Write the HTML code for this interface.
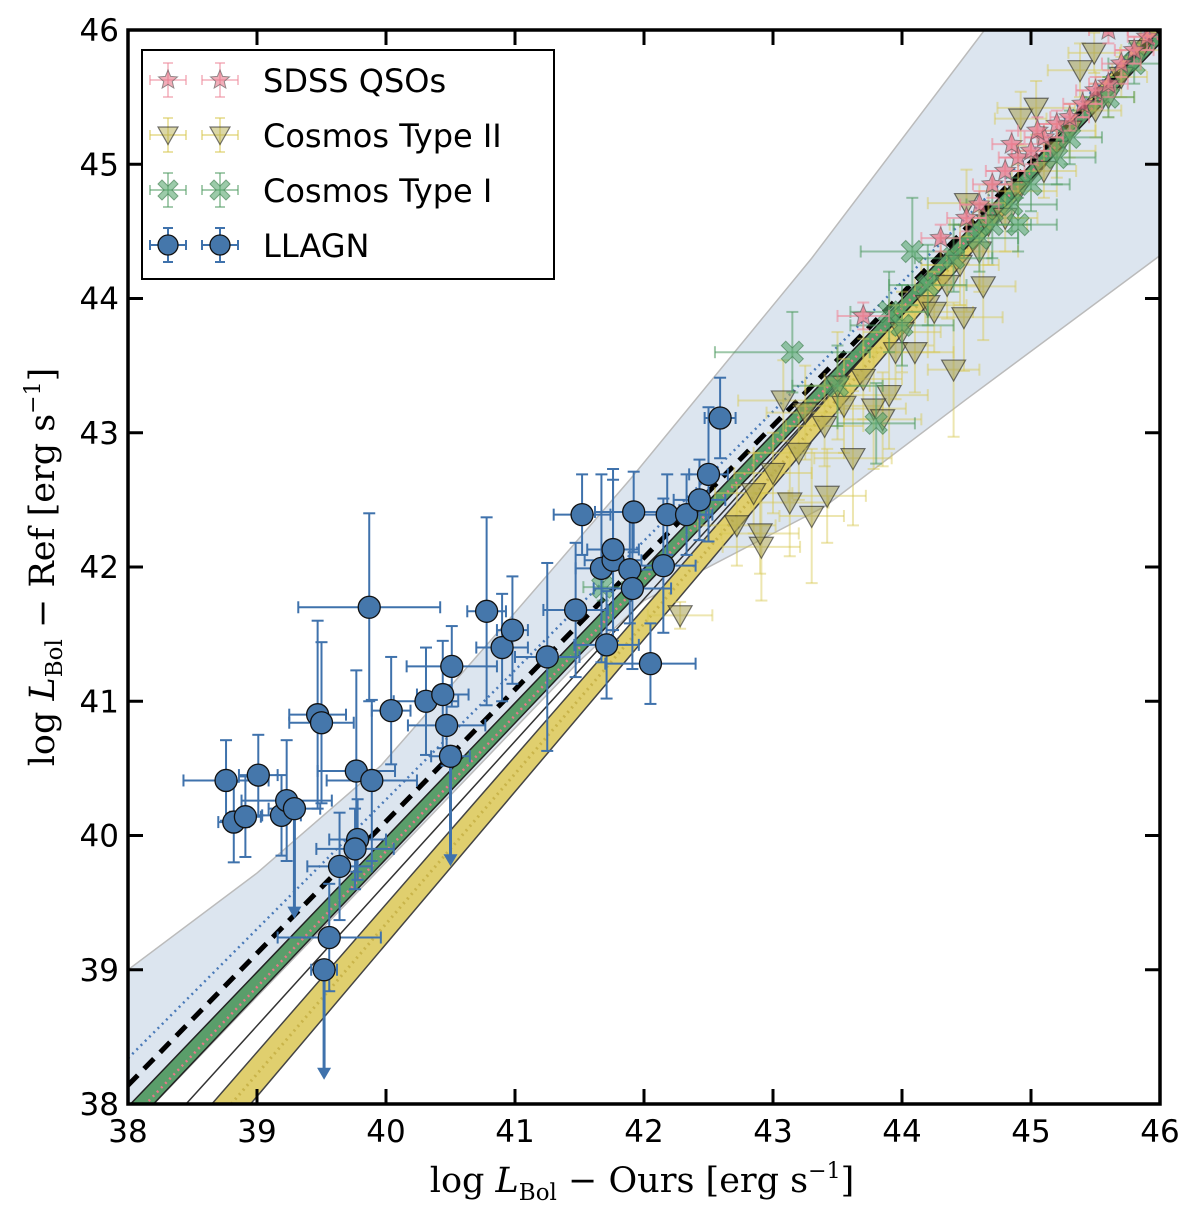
<!DOCTYPE html>
<html><head><meta charset="utf-8"><style>
html,body{margin:0;padding:0;background:#fff;overflow:hidden;width:1200px;height:1216px}
svg{display:block}
.tk{font-family:"DejaVu Sans","Liberation Sans",sans-serif;font-size:31px;fill:#000}
.lg{font-family:"DejaVu Sans","Liberation Sans",sans-serif;font-size:32px;fill:#000}
.ax{font-family:"DejaVu Serif","Liberation Serif",serif;font-size:35px;fill:#000}
</style></head><body>
<svg id="chart" width="1200" height="1216" viewBox="0 0 1200 1216" xmlns="http://www.w3.org/2000/svg">
<defs><clipPath id="clip"><rect x="128" y="30" width="1032" height="1074"/></clipPath></defs>
<g id="plot" clip-path="url(#clip)"></g>
<g id="axes"></g>
<g id="legend"></g>
<text class="ax" x="642" y="1192" text-anchor="middle">log  <tspan font-style="italic">L</tspan><tspan font-size="23" dy="8">Bol</tspan><tspan dy="-8"> − Ours [erg s</tspan><tspan font-size="22" dy="-14">−1</tspan><tspan dy="14">]</tspan></text>
<text class="ax" transform="translate(54,567) rotate(-90)" text-anchor="middle">log  <tspan font-style="italic">L</tspan><tspan font-size="23" dy="8">Bol</tspan><tspan dy="-8"> − Ref [erg s</tspan><tspan font-size="22" dy="-14">−1</tspan><tspan dy="14">]</tspan></text>
</svg>
<script>
const xTicks=[38,39,40,41,42,43,44,45,46];
const yTicks=[38,39,40,41,42,43,44,45,46];
// LLAGN: x, y, xerr, yerr, upper-limit flag
const llX=[38.76,38.82,38.91,39.01,39.19,39.23,39.29,39.47,39.50,39.77,39.78,39.76,39.89,39.87,39.64,39.56,39.52,40.04,40.31,40.44,40.47,40.50,40.51,40.78,40.90,40.98,41.25,41.52,41.47,41.67,41.71,41.76,41.76,41.89,41.91,41.92,42.15,42.18,42.05,42.33,42.43,42.50,42.59];
const llY=[40.41,40.10,40.14,40.45,40.15,40.26,40.20,40.90,40.84,40.48,39.97,39.90,40.41,41.70,39.77,39.24,39.00,40.93,41.00,41.05,40.82,40.59,41.26,41.67,41.40,41.53,41.33,42.39,41.68,41.99,41.42,42.05,42.13,41.98,41.84,42.41,42.01,42.39,41.28,42.39,42.50,42.69,43.11];
const llXe=[0.33,0.12,0.12,0.15,0.15,0.35,0.20,0.22,0.25,0.30,0.22,0.30,0.35,0.55,0.25,0.40,0.10,0.15,0.25,0.20,0.30,0.15,0.35,0.15,0.20,0.12,0.25,0.22,0.25,0.20,0.25,0.22,0.20,0.25,0.30,0.30,0.25,0.30,0.35,0.20,0.20,0.15,0.12];
const llYe=[0.30,0.30,0.30,0.30,0.30,0.45,0.00,0.70,0.60,0.75,0.30,0.30,0.60,0.70,0.40,0.40,0.00,0.40,0.40,0.40,0.30,0.00,0.30,0.70,0.40,0.40,0.70,0.30,0.50,0.70,0.40,0.60,0.60,0.40,0.60,0.30,0.50,0.30,0.30,0.30,0.30,0.50,0.30];
const llUL=[0,0,0,0,0,0,1,0,0,0,0,0,0,0,0,0,1,0,0,0,0,1,0,0,0,0,0,0,0,0,0,0,0,0,0,0,0,0,0,0,0,0,0];
// Cosmos Type II
const c2X=[42.91,43.42,43.30,43.13,42.72,43.62,44.40,44.48,44.63,43.90,43.78,43.08,43.25,43.50,44.92,45.04,45.49,45.38,44.67,44.50,44.0,43.95,43.7,43.55,43.4,43.2,43.0,42.85,44.2,44.35,44.45,44.6,44.8,44.9,45.1,45.3,45.5,45.7,45.85,44.1,43.85,42.28,42.9,45.6,45.2,44.25];
const c2Y=[42.15,42.53,42.38,42.48,42.31,42.81,43.47,43.86,44.09,43.28,43.18,43.24,43.15,43.35,45.34,45.42,45.83,45.70,44.55,44.71,43.75,43.6,43.4,43.2,43.05,42.85,42.7,42.55,43.95,44.1,44.25,44.35,44.6,44.8,44.95,45.25,45.4,45.65,45.85,43.6,43.1,41.64,42.25,45.5,45.1,43.9];
const c2Xe=[0.3,0.3,0.25,0.3,0.3,0.3,0.2,0.3,0.25,0.3,0.25,0.35,0.3,0.25,0.2,0.3,0.2,0.25,0.3,0.3,0.3,0.25,0.3,0.3,0.3,0.35,0.3,0.3,0.3,0.25,0.3,0.3,0.25,0.3,0.25,0.2,0.2,0.2,0.15,0.3,0.3,0.25,0.3,0.2,0.3,0.3];
const c2Ye=[0.4,0.35,0.5,0.4,0.3,0.5,0.5,0.4,0.4,0.4,0.45,0.3,0.35,0.4,0.2,0.2,0.15,0.2,0.3,0.25,0.3,0.35,0.3,0.35,0.3,0.35,0.3,0.3,0.3,0.25,0.3,0.3,0.25,0.2,0.2,0.2,0.2,0.15,0.15,0.3,0.35,0.1,0.3,0.15,0.2,0.3];
// Cosmos Type I
const c1X=[43.15,43.80,44.08,44.85,44.90,43.9,44.2,44.4,44.6,45.0,45.3,45.6,45.8,44.0,43.5,41.68,44.7,45.2];
const c1Y=[43.60,43.07,44.35,44.70,44.55,43.9,44.1,44.3,44.45,44.85,45.2,45.5,45.75,43.8,43.35,41.85,44.55,45.05];
const c1Xe=[0.6,0.3,0.4,0.35,0.3,0.3,0.3,0.3,0.3,0.3,0.25,0.2,0.2,0.4,0.35,0.15,0.3,0.3];
const c1Ye=[0.3,0.3,0.4,0.2,0.2,0.3,0.3,0.25,0.25,0.2,0.2,0.15,0.15,0.3,0.3,0.1,0.25,0.2];
// SDSS QSOs
const sdX=[43.70,44.3,44.5,44.6,44.7,44.8,44.9,45.0,45.1,45.2,45.3,45.4,45.5,45.6,45.7,45.8,45.9,45.6,44.85,45.05];
const sdY=[43.87,44.45,44.6,44.7,44.85,44.95,45.05,45.1,45.2,45.3,45.35,45.45,45.55,45.6,45.75,45.85,45.95,46.0,45.15,45.25];
const sdXe=[0.2,0.15,0.15,0.15,0.15,0.15,0.15,0.15,0.15,0.15,0.15,0.15,0.15,0.15,0.15,0.15,0.15,0.15,0.15,0.15];
const sdYe=[0.1,0.1,0.1,0.1,0.1,0.1,0.1,0.1,0.1,0.1,0.1,0.1,0.1,0.1,0.1,0.1,0.1,0.1,0.1,0.1];
// Confidence band edges and fit lines
const bandUpX=[38,39.0,39.96,40.9,41.89,43.3,44.64];
const bandUpY=[39.0,39.72,40.52,41.55,42.65,44.3,46.0];
const bandLoX=[38,40.0,41.5,42.0,42.9,43.4,44.5,46];
const bandLoY=[37.8,39.8,41.3,41.75,42.2,42.45,43.25,44.32];
const dottedLine=[[38,38.34],[46,46.05]];
const dashedLine=[[38,38.14],[46,46.0]];
const greenTop=[[38,37.98],[46,46.0]];
const greenBot=[[38,37.8],[46,45.9]];
const yellowTop=[[38.65,38],[46,46.1]];
const yellowBot=[[38.95,38],[46,46.0]];
const midLine=[[38.45,38],[46,46.0]];

const X0=128,X1=1160,Y0=1104,Y1=30;
const sx=v=>X0+(v-38)*(X1-X0)/8;
const sy=v=>Y0-(v-38)*(Y0-Y1)/8;
const NS='http://www.w3.org/2000/svg';
const plot=document.getElementById('plot');
function mk(tag,attrs,parent){const e=document.createElementNS(NS,tag);for(const k in attrs)e.setAttribute(k,attrs[k]);(parent||plot).appendChild(e);return e;}
const pts=a=>a.map(p=>sx(p[0])+','+sy(p[1])).join(' ');

let poly=[];for(let i=0;i<bandUpX.length;i++)poly.push([bandUpX[i],bandUpY[i]]);
poly.push([47,47.3]);poly.push([47,45.0]);
for(let i=bandLoX.length-1;i>=0;i--)poly.push([bandLoX[i],bandLoY[i]]);
poly.push([37,36.8]);poly.push([37,38.4]);
let band=mk('polygon',{points:pts(poly),fill:'#dce5ef',stroke:'#bbbbbb','stroke-width':1.5});



let yb=mk('polygon',{points:pts([yellowTop[0],yellowTop[1],yellowBot[1],yellowBot[0]]),fill:'#e0cf6e',stroke:'#444',"stroke-width":1.5});


let yd=mk('line',{x1:(sx(yellowTop[0][0])+sx(yellowBot[0][0]))/2,y1:sy(38),x2:sx(46),y2:sy(46.05),stroke:'#c9b44a','stroke-width':3,'stroke-dasharray':'2 4'});


let ml=mk('polyline',{points:pts(midLine),fill:'none',stroke:'#333','stroke-width':1.5});


let gb=mk('polygon',{points:pts([greenTop[0],greenTop[1],greenBot[1],greenBot[0]]),fill:'#5a9e6a',stroke:'#222',"stroke-width":1.5});


let pd=mk('polyline',{points:pts([[38,37.86],[46,45.95]]),fill:'none',stroke:'#e8788a','stroke-width':2.5,'stroke-dasharray':'2 4'});


let bd=mk('polyline',{points:pts(dottedLine),fill:'none',stroke:'#4a7ab8','stroke-width':2.5,'stroke-dasharray':'2 4'});


let dl=mk('polyline',{points:pts(dashedLine),fill:'none',stroke:'#000','stroke-width':5,'stroke-dasharray':'14 9'});



function errbar(g,x,y,xe,ye,col,op,w){
  const a={stroke:col,'stroke-width':w,'stroke-opacity':op};
  if(xe>0){mk('line',Object.assign({x1:sx(x-xe),y1:sy(y),x2:sx(x+xe),y2:sy(y)},a),g);
    mk('line',Object.assign({x1:sx(x-xe),y1:sy(y)-6,x2:sx(x-xe),y2:sy(y)+6},a),g);
    mk('line',Object.assign({x1:sx(x+xe),y1:sy(y)-6,x2:sx(x+xe),y2:sy(y)+6},a),g);}
  if(ye>0){mk('line',Object.assign({x1:sx(x),y1:sy(y-ye),x2:sx(x),y2:sy(y+ye)},a),g);
    mk('line',Object.assign({x1:sx(x)-6,y1:sy(y-ye),x2:sx(x)+6,y2:sy(y-ye)},a),g);
    mk('line',Object.assign({x1:sx(x)-6,y1:sy(y+ye),x2:sx(x)+6,y2:sy(y+ye)},a),g);}
}
function tri(g,cx,cy,s,fill,op){return mk('polygon',{points:`${cx-s},${cy-s*0.8} ${cx+s},${cy-s*0.8} ${cx},${cy+s*0.95}`,fill:fill,'fill-opacity':op,stroke:'#222','stroke-opacity':0.6,'stroke-width':1.2},g);}
function star(g,cx,cy,r,fill,op){let p=[];for(let i=0;i<10;i++){const rr=i%2?r*0.45:r;const a=-Math.PI/2+i*Math.PI/5;p.push((cx+rr*Math.cos(a))+','+(cy+rr*Math.sin(a)));}return mk('polygon',{points:p.join(' '),fill:fill,'fill-opacity':op,stroke:'#555','stroke-opacity':0.6,'stroke-width':1},g);}
function cross(g,cx,cy,r,fill,op){const t=r*0.4;const p=[[-r,-r+t],[-r+t,-r],[0,-t],[r-t,-r],[r,-r+t],[t,0],[r,r-t],[r-t,r],[0,t],[-r+t,r],[-r,r-t],[-t,0]].map(q=>(cx+q[0])+','+(cy+q[1]));return mk('polygon',{points:p.join(' '),fill:fill,'fill-opacity':op,stroke:'#3a7a4a','stroke-opacity':0.6,'stroke-width':1},g);}

const gC2=mk('g',{});
for(let i=0;i<c2X.length;i++){errbar(gC2,c2X[i],c2Y[i],c2Xe[i],c2Ye[i],'#d8c850',0.45,2);}
for(let i=0;i<c2X.length;i++){const m=tri(gC2,sx(c2X[i]),sy(c2Y[i]),12,'#a8a050',0.55);
  
  }
const gC1=mk('g',{});
for(let i=0;i<c1X.length;i++){errbar(gC1,c1X[i],c1Y[i],c1Xe[i],c1Ye[i],'#4e9a60',0.55,2);}
for(let i=0;i<c1X.length;i++){const m=cross(gC1,sx(c1X[i]),sy(c1Y[i]),11,'#5aa870',0.6);
  
  }
const gSD=mk('g',{});
for(let i=0;i<sdX.length;i++){errbar(gSD,sdX[i],sdY[i],sdXe[i],sdYe[i],'#ee8899',0.6,2);}
for(let i=0;i<sdX.length;i++){const m=star(gSD,sx(sdX[i]),sy(sdY[i]),11,'#e8788a',0.7);
  
  }
const gLL=mk('g',{});
for(let i=0;i<llX.length;i++){errbar(gLL,llX[i],llY[i],llXe[i],llYe[i],'#3f72ac',1,2);
  if(llUL[i]){const x=sx(llX[i]),y=sy(llY[i]),y2=y+100;
    mk('line',{x1:x,y1:y,x2:x,y2:y2,stroke:'#3f72ac','stroke-width':3},gLL);
    mk('polygon',{points:`${x-7},${y2-2} ${x+7},${y2-2} ${x},${y2+10}`,fill:'#3f72ac'},gLL);}}
for(let i=0;i<llX.length;i++){const c=mk('circle',{cx:sx(llX[i]),cy:sy(llY[i]),r:11,fill:'#4577ab',stroke:'#111','stroke-width':1.3},gLL);
  
  }

const ax=document.getElementById('axes');
mk('rect',{x:X0,y:Y1,width:X1-X0,height:Y0-Y1,fill:'none',stroke:'#000','stroke-width':3.5},ax);
xTicks.forEach(t=>{const x=sx(t);
  mk('line',{x1:x,y1:Y0,x2:x,y2:Y0-15,stroke:'#000','stroke-width':3},ax);
  mk('line',{x1:x,y1:Y1,x2:x,y2:Y1+15,stroke:'#000','stroke-width':3},ax);
  const tx=mk('text',{x:x,y:Y0+38,'text-anchor':'middle',class:'tk'},ax);tx.textContent=t;
  
  });
yTicks.forEach(t=>{const y=sy(t);
  mk('line',{x1:X0,y1:y,x2:X0+15,y2:y,stroke:'#000','stroke-width':3},ax);
  mk('line',{x1:X1,y1:y,x2:X1-15,y2:y,stroke:'#000','stroke-width':3},ax);
  const tx=mk('text',{x:X0-9,y:y+11,'text-anchor':'end',class:'tk'},ax);tx.textContent=t;
  
  });

const lg=document.getElementById('legend');
mk('rect',{x:142,y:50,width:412,height:229,fill:'#fff',stroke:'#000','stroke-width':2},lg);
const entries=[['SDSS QSOs','#ee8899'],['Cosmos Type II','#d8c850'],['Cosmos Type I','#4e9a60'],['LLAGN','#3f72ac']];
entries.forEach((e,i)=>{const y=80+i*55;const g=mk('g',{},lg);
  
  
  [168,220].forEach(x=>{const a={stroke:e[1],'stroke-width':2,'stroke-opacity':i==3?1:0.5};
    mk('line',Object.assign({x1:x-18,y1:y,x2:x+18,y2:y},a),g);mk('line',Object.assign({x1:x,y1:y-17,x2:x,y2:y+17},a),g);
    mk('line',Object.assign({x1:x-18,y1:y-5,x2:x-18,y2:y+5},a),g);mk('line',Object.assign({x1:x+18,y1:y-5,x2:x+18,y2:y+5},a),g);
    mk('line',Object.assign({x1:x-5,y1:y-17,x2:x+5,y2:y-17},a),g);mk('line',Object.assign({x1:x-5,y1:y+17,x2:x+5,y2:y+17},a),g);
    if(i==0)star(g,x,y,10,'#e8788a',0.6);
    if(i==1)tri(g,x,y,10,'#b8b050',0.5);
    if(i==2)cross(g,x,y,10,'#5aa870',0.6);
    if(i==3)mk('circle',{cx:x,cy:y,r:10,fill:'#4577ab',stroke:'#111','stroke-width':1.3},g);});
  const t=mk('text',{x:263,y:y+12,class:'lg'},g);t.textContent=e[0];});
</script>
</body></html>
